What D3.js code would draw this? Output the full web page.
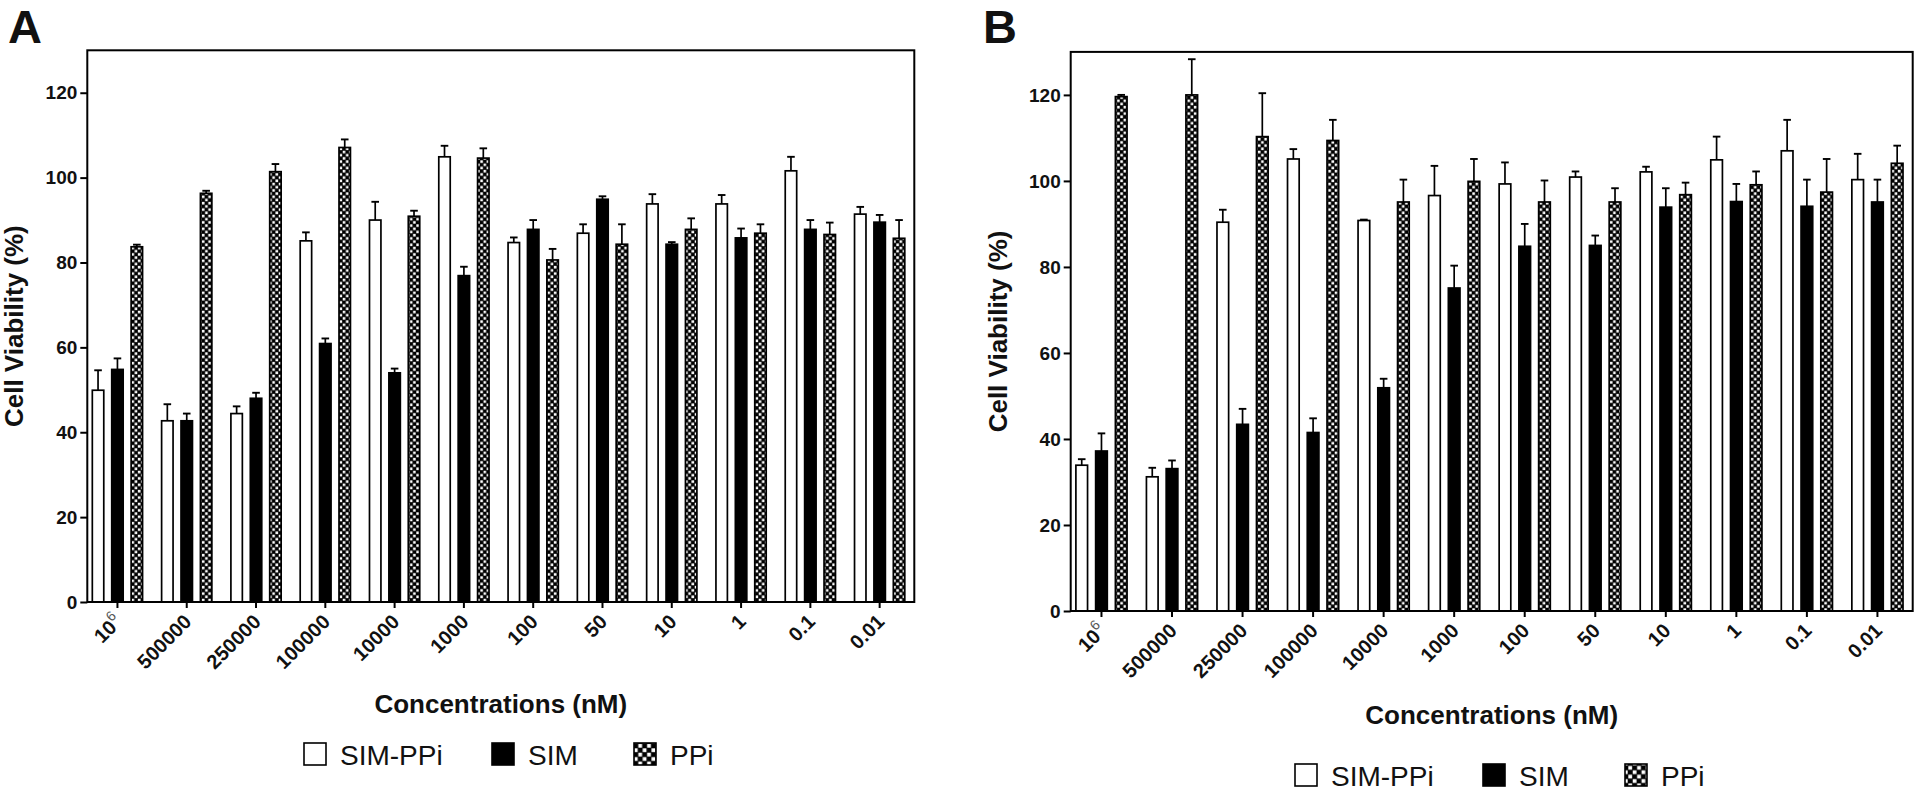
<!DOCTYPE html>
<html><head><meta charset="utf-8">
<script src="https://cdn.jsdelivr.net/npm/d3@7"></script>
<style>
body{margin:0;background:#fff}
svg{display:block}
text{font-family:"Liberation Sans",Arial,Helvetica,sans-serif;fill:#111}
</style>
</head><body>
<svg id="chart" width="1920" height="794"></svg>
<script>
// ---------------- data ----------------
const concentrations = ["10^6","500000","250000","100000","10000","1000","100","50","10","1","0.1","0.01"];
const seriesNames = ["SIM-PPi","SIM","PPi"];
const yTicks = [0,20,40,60,80,100,120];

// Panel A
const simPPiA    = [49.9, 42.7, 44.4, 85.1, 90.0, 104.9, 84.7, 86.9, 93.8, 93.8, 101.6, 91.4];
const simPPiAErr = [4.7, 3.9, 1.7, 2.0, 4.3, 2.6, 1.2, 2.1, 2.3, 2.1, 3.3, 1.7];
const simA       = [54.8, 42.7, 48.0, 60.9, 54.0, 76.9, 87.8, 94.9, 84.3, 85.8, 87.8, 89.5];
const simAErr    = [2.6, 1.7, 1.3, 1.2, 1.0, 2.1, 2.2, 0.7, 0.5, 2.2, 2.2, 1.7];
const ppiA       = [83.7, 96.3, 101.4, 107.1, 90.9, 104.6, 80.6, 84.3, 87.8, 86.9, 86.6, 85.7];
const ppiAErr    = [0.5, 0.6, 1.8, 1.9, 1.3, 2.3, 2.6, 4.7, 2.6, 2.1, 2.8, 4.3];

// Panel B
const simPPiB    = [33.9, 31.2, 90.4, 105.1, 90.8, 96.6, 99.3, 100.9, 102.1, 104.9, 107.0, 100.3];
const simPPiBErr = [1.4, 2.1, 2.9, 2.3, 0.2, 6.9, 5.0, 1.3, 1.2, 5.4, 7.2, 6.0];
const simB       = [37.2, 33.1, 43.4, 41.5, 51.9, 75.1, 84.8, 85.0, 93.9, 95.2, 94.1, 95.1];
const simBErr    = [4.1, 1.9, 3.6, 3.3, 2.1, 5.2, 5.2, 2.3, 4.4, 4.1, 6.2, 5.2];
const ppiB       = [119.6, 120.0, 110.3, 109.4, 95.1, 99.9, 95.1, 95.1, 96.8, 99.1, 97.4, 104.1];
const ppiBErr    = [0.4, 8.3, 10.1, 4.8, 5.2, 5.2, 5.0, 3.2, 2.8, 3.1, 7.7, 4.1];

const yLabel = "Cell Viability (%)";
const xLabel = "Concentrations (nM)";

// ---------------- layout ----------------
const panels = [
  {letter:"A", letterX:8, left:87.3, right:914.3, top:50.3, bottom:602, titleX:23, xTitleY:712.7, legendX:304, legendY:743,
   means:[simPPiA, simA, ppiA], errs:[simPPiAErr, simAErr, ppiAErr]},
  {letter:"B", letterX:983, left:1070.7, right:1912.7, top:51.9, bottom:611, titleX:1007, xTitleY:724.3, legendX:1295, legendY:764,
   means:[simPPiB, simB, ppiB], errs:[simPPiBErr, simBErr, ppiBErr]}
];

const svg = d3.select("#chart");
const defs = svg.append("defs");

function checker(id, s){
  const p = defs.append("pattern").attr("id", id).attr("patternUnits","userSpaceOnUse")
    .attr("width", 2*s).attr("height", 2*s);
  p.append("rect").attr("width", 2*s).attr("height", 2*s).attr("fill", "#000");
  p.append("rect").attr("x", 0.3).attr("y", 0.3).attr("width", s-0.6).attr("height", s-0.6).attr("fill", "#fff");
  p.append("rect").attr("x", s+0.3).attr("y", s+0.3).attr("width", s-0.6).attr("height", s-0.6).attr("fill", "#fff");
}
checker("chkBar", 3.2);
checker("chkLeg", 4.4);

const fills = {"SIM-PPi":"#fff", "SIM":"#000", "PPi":"url(#chkBar)"};
const legFills = {"SIM-PPi":"#fff", "SIM":"#000", "PPi":"url(#chkLeg)"};

panels.forEach(P => {
  const g = svg.append("g");
  const y = d3.scaleLinear().domain([0,130]).range([P.bottom, P.top]);
  const x = d3.scaleBand().domain(concentrations).range([P.left - 4.5, P.right]).padding(0);
  const S = x.step();
  const sub = d3.scaleBand().domain(seriesNames).range([-0.42*S, 0.42*S]).paddingInner(0.41).paddingOuter(0.205);
  const bw = sub.bandwidth();

  // bars + error bars
  seriesNames.forEach((name, j) => {
    concentrations.forEach((c, i) => {
      const v = P.means[j][i], e = P.errs[j][i];
      const x0 = x(c) + S/2 + sub(name);
      const cx = x0 + bw/2;
      g.append("line").attr("x1", cx).attr("x2", cx).attr("y1", y(v)).attr("y2", y(v+e))
        .attr("stroke","#000").attr("stroke-width",1.7);
      g.append("line").attr("x1", cx-3.8).attr("x2", cx+3.8).attr("y1", y(v+e)).attr("y2", y(v+e))
        .attr("stroke","#000").attr("stroke-width",1.9);
      g.append("rect").attr("x", x0).attr("y", y(v)).attr("width", bw).attr("height", y(0)-y(v))
        .attr("fill", fills[name]).attr("stroke","#000").attr("stroke-width",1.7);
    });
  });

  // frame
  g.append("rect").attr("x", P.left).attr("y", P.top).attr("width", P.right-P.left).attr("height", P.bottom-P.top)
    .attr("fill","none").attr("stroke","#000").attr("stroke-width",2);

  // y axis
  const ya = g.append("g").attr("transform", `translate(${P.left},0)`)
    .call(d3.axisLeft(y).tickValues(yTicks).tickSize(7).tickPadding(3));
  ya.select(".domain").remove();
  ya.selectAll(".tick line").attr("stroke","#000").attr("stroke-width",2);
  ya.selectAll(".tick text").attr("font-size",19).attr("font-weight","bold").attr("fill","#111")
    .attr("font-family","'Liberation Sans',Arial,sans-serif");

  // x axis
  const xa = g.append("g").attr("transform", `translate(0,${P.bottom})`)
    .call(d3.axisBottom(x).tickSize(6).tickFormat(""));
  xa.select(".domain").remove();
  xa.selectAll(".tick line").attr("stroke","#000").attr("stroke-width",2);
  concentrations.forEach(c => {
    const cx = x(c) + S/2;
    const t = g.append("text").attr("transform", `translate(${cx+6},${P.bottom+21}) rotate(-45)`)
      .attr("text-anchor","end").attr("font-size",20).attr("font-weight","bold");
    if (c === "10^6") {
      t.append("tspan").text("10");
      t.append("tspan").attr("dy",-9).attr("font-size",14).attr("font-weight","normal").attr("fill","#555").text("6");
    } else {
      t.text(c);
    }
  });

  // panel letter
  g.append("text").attr("x", P.letterX).attr("y", 43).attr("font-size",47).attr("font-weight","bold").text(P.letter);

  // y title
  g.append("text").attr("transform", `translate(${P.titleX},${(P.top+P.bottom)/2}) rotate(-90)`)
    .attr("text-anchor","middle").attr("font-size",26).attr("font-weight","bold").text(yLabel);

  // x title
  g.append("text").attr("x", (P.left+P.right)/2).attr("y", P.xTitleY).attr("text-anchor","middle")
    .attr("font-size",26).attr("font-weight","bold").text(xLabel);

  // legend
  const offs = [[0,36],[188,224],[330,366]];
  seriesNames.forEach((name, j) => {
    g.append("rect").attr("x", P.legendX + offs[j][0]).attr("y", P.legendY).attr("width",22).attr("height",22)
      .attr("fill", legFills[name]).attr("stroke","#000").attr("stroke-width",1.6);
    g.append("text").attr("x", P.legendX + offs[j][1]).attr("y", P.legendY + 22).attr("font-size",28).text(name);
  });
});
</script>
</body></html>
